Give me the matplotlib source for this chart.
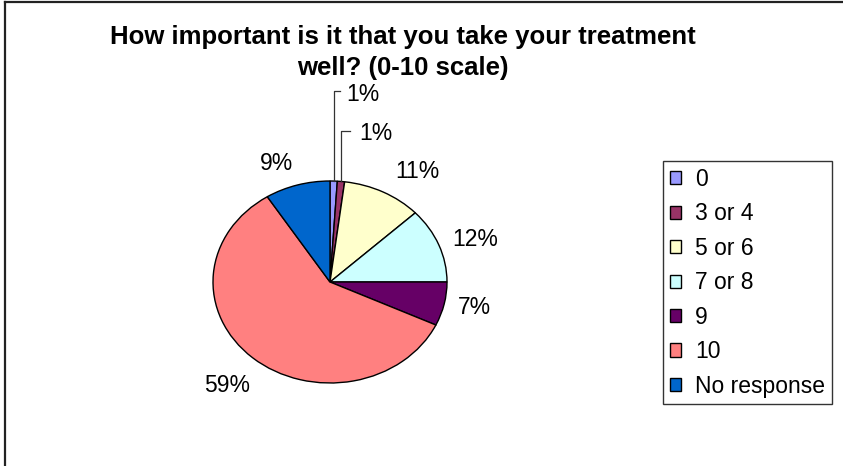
import numpy as np
import matplotlib
matplotlib.use("Agg")
import matplotlib.pyplot as plt
from matplotlib.lines import Line2D

# survey answers, share of respondents in percent
categories = ["0", "3 or 4", "5 or 6", "7 or 8", "9", "10", "No response"]
shares = [1, 1, 11, 12, 7, 59, 9]
colors = ["#9999FF", "#993366", "#FFFFCC", "#CCFFFF", "#660066", "#FF8080", "#0066CC"]

plt.rcParams['font.family'] = ['Liberation Sans', 'DejaVu Sans']

W, H = 843, 466
fig = plt.figure(figsize=(W / 100, H / 100), dpi=100)

# chart area border (left and top edges only)
fig.add_artist(Line2D([4.5 / W, 4.5 / W], [0, 1 - 1.5 / H], transform=fig.transFigure,
                      color='#222222', lw=1.6))
fig.add_artist(Line2D([4.5 / W, 1], [1 - 1.5 / H, 1 - 1.5 / H], transform=fig.transFigure,
                      color='#222222', lw=1.6))

fig.text(403 / W, 1 - 25 / H,
         "How important is it that you take your treatment\nwell? (0-10 scale)",
         ha='center', va='top', fontsize=18.5, fontweight='bold', linespacing=1.38)

# pie is slightly wider than tall
ax = fig.add_axes([213 / W, (H - 383) / H, 234 / W, 202 / H])
wedges, _ = ax.pie(shares, colors=colors, startangle=90, counterclock=False,
                   wedgeprops=dict(edgecolor='black', linewidth=1.0))
ax.set_aspect('auto')
ax.set_xlim(-1, 1)
ax.set_ylim(-1, 1)
for w in wedges:
    w.set_clip_on(False)

# small slices get a leader line up to the label
knees = [(1.89, 0.05, 0.11), (1.50, 0.08, 0.16)]
for w, v in zip(wedges, shares):
    mid = np.deg2rad((w.theta1 + w.theta2) / 2)
    c, s = np.cos(mid), np.sin(mid)
    if v < 3:
        ky, arm, tx = knees.pop(0)
        ax.plot([c, c, c + arm], [s, ky, ky], color='#333333', lw=0.9, clip_on=False)
        ax.text(c + tx, ky - 0.03, f"{v}%", ha='left', va='center', fontsize=16.5,
                clip_on=False)
    else:
        ha = 'left' if c > 0 else 'right'
        va = 'bottom' if s > 0.4 else ('top' if s < -0.4 else 'center')
        if s < -0.4:
            dx, dy = 4 * c, 22 * s
        elif s > 0.4:
            dx, dy = 14 * c + (6 if s < 0.9 else 0), 10 * s
        else:
            dx, dy = 14 * c, 14 * s
        ax.annotate(f"{v}%", (c, s), xytext=(dx, dy), textcoords='offset pixels',
                    ha=ha, va=va, fontsize=16.5, annotation_clip=False)

leg = fig.legend(wedges, categories, loc='upper left',
                 bbox_to_anchor=(663 / W, 1 - 161 / H), fontsize=16.5,
                 frameon=True, fancybox=False, edgecolor='black',
                 handlelength=0.5, handleheight=0.5, handletextpad=0.6,
                 labelspacing=0.5, borderpad=0.3, borderaxespad=0)
leg.get_frame().set_linewidth(1.0)

fig.savefig('out.png', dpi=100)
